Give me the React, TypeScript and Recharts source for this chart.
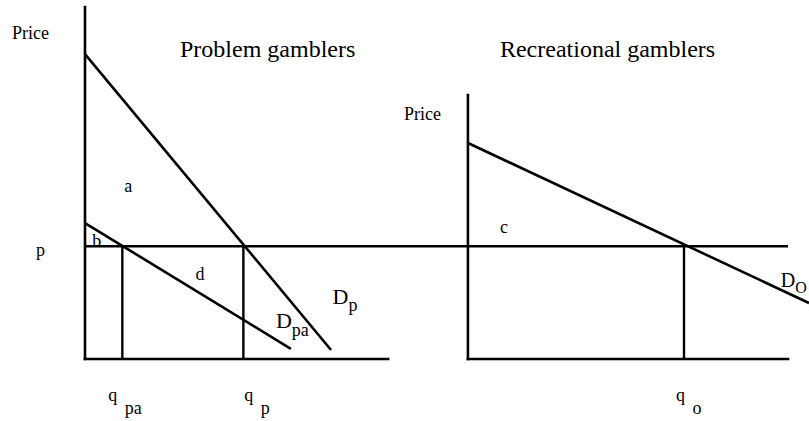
import React from "react";
import { ComposedChart, Line, Scatter, XAxis, YAxis } from "recharts";

// ---- data (price / quantity units) ----
const priceLevel = 10;
const xDomain = [0, 64];
const yDomain = [0, 31.2];

const qValues = [3.3, 14, 52.95];
const qSubscripts = ["pa", "p", "o"];
const priceTickLabel = "p";

const leftPriceAxis = [{ x: 0, y: 0 }, { x: 0, y: 31.2 }];
const leftQuantityAxis = [{ x: 0, y: 0 }, { x: 26.8, y: 0 }];
const demandP = [{ x: 0, y: 27.03 }, { x: 21.75, y: 0.8 }];
const demandPA = [{ x: 0, y: 12.05 }, { x: 18.2, y: 0.9 }];
const priceLine = [{ x: 0, y: priceLevel }, { x: 62.15, y: priceLevel }];
const qpaDrop = [{ x: 3.3, y: 0 }, { x: 3.3, y: priceLevel }];
const qpDrop = [{ x: 14, y: 0 }, { x: 14, y: priceLevel }];
const rightPriceAxis = [{ x: 33.85, y: 0 }, { x: 33.85, y: 23.4 }];
const rightQuantityAxis = [{ x: 33.85, y: 0 }, { x: 62.15, y: 0 }];
const demandO = [{ x: 33.85, y: 19.15 }, { x: 64, y: 4.96 }];
const qoDrop = [{ x: 52.95, y: 0 }, { x: 52.95, y: priceLevel }];

const panelTitles = [
  { x: 8.4, y: 26.8, label: "Problem gamblers" },
  { x: 36.68, y: 26.8, label: "Recreational gamblers" },
];
const smallLabels = [
  { x: 28.2, y: 21.18, label: "Price" },
  { x: 3.47, y: 14.8, label: "a" },
  { x: 0.65, y: 9.93, label: "b" },
  { x: 36.68, y: 11.17, label: "c" },
  { x: 9.77, y: 7.0, label: "d" },
];
const demandLabels = [
  { x: 21.88, y: 4.85, label: "D", sub: "p" },
  { x: 16.88, y: 2.72, label: "D", sub: "pa" },
  { x: 61.5, y: 6.36, label: "D", sub: "O" },
];

// ---- styles ----
const FONT = "'Times New Roman', 'Liberation Serif', serif";
const demandLabelStyles = [
  { d: 22, s: 18, dy: 7 },
  { d: 22, s: 18, dy: 8 },
  { d: 20, s: 16, dy: 6 },
];
const qLabelOffsets = [-14.2, 0.9, -8];

const QTick = (props: any) => {
  const { x, payload } = props;
  const i = qValues.indexOf(payload.value);
  if (i < 0) return null;
  const sx = x + qLabelOffsets[i];
  return (
    <g>
      <text x={sx} y={401} fontFamily={FONT} fontSize={18} fill="#000">q</text>
      <text x={sx + 16.5} y={414} fontFamily={FONT} fontSize={18} fill="#000">{qSubscripts[i]}</text>
    </g>
  );
};

const PTick = (props: any) => {
  const { y } = props;
  return (
    <text x={36} y={y + 9.5} fontFamily={FONT} fontSize={18} fill="#000">{priceTickLabel}</text>
  );
};

const PriceAxisLabel = () => (
  <text x={12} y={39} fontFamily={FONT} fontSize={18} fill="#000">Price</text>
);

const lineProps = {
  dataKey: "y",
  stroke: "#000",
  strokeWidth: 2.6,
  dot: false,
  activeDot: false,
  isAnimationActive: false,
  type: "linear" as const,
  strokeLinecap: "square" as const,
  legendType: "none" as const,
};

export default function App() {
  return (
    <div style={{ position: "absolute", left: 0, top: 0, width: 809, height: 421, background: "#fff" }}>
      <ComposedChart width={809} height={421} margin={{ top: 7, right: 0, bottom: 0, left: 0 }}>
        <XAxis
          type="number"
          dataKey="x"
          domain={xDomain}
          height={62}
          ticks={qValues}
          interval={0}
          axisLine={false}
          tickLine={false}
          tick={QTick}
        />
        <YAxis
          type="number"
          dataKey="y"
          domain={yDomain}
          width={85}
          ticks={[priceLevel]}
          interval={0}
          axisLine={false}
          tickLine={false}
          tick={PTick}
          label={PriceAxisLabel}
        />
        <Line data={leftPriceAxis} {...lineProps} />
        <Line data={leftQuantityAxis} {...lineProps} />
        <Line data={demandP} {...lineProps} strokeLinecap="butt" />
        <Line data={demandPA} {...lineProps} strokeLinecap="butt" />
        <Line data={priceLine} {...lineProps} strokeLinecap="butt" />
        <Line data={qpaDrop} {...lineProps} strokeLinecap="butt" strokeWidth={2.4} />
        <Line data={qpDrop} {...lineProps} strokeLinecap="butt" strokeWidth={2.4} />
        <Line data={rightPriceAxis} {...lineProps} />
        <Line data={rightQuantityAxis} {...lineProps} />
        <Line data={demandO} {...lineProps} strokeLinecap="butt" />
        <Line data={qoDrop} {...lineProps} strokeLinecap="butt" strokeWidth={2.4} />
        <Scatter
          data={panelTitles}
          dataKey="y"
          isAnimationActive={false}
          legendType="none"
          shape={(p: any) => (
            <text x={p.cx} y={p.cy} fontFamily={FONT} fontSize={24} fill="#000">{p.payload.label}</text>
          )}
        />
        <Scatter
          data={smallLabels}
          dataKey="y"
          isAnimationActive={false}
          legendType="none"
          shape={(p: any) => (
            <text x={p.cx} y={p.cy} fontFamily={FONT} fontSize={18} fill="#000">{p.payload.label}</text>
          )}
        />
        <Scatter
          data={demandLabels}
          dataKey="y"
          isAnimationActive={false}
          legendType="none"
          shape={(p: any) => {
            const i = demandLabels.findIndex((d) => d.sub === p.payload.sub);
            const st = demandLabelStyles[i] || demandLabelStyles[0];
            return (
              <text x={p.cx} y={p.cy} fontFamily={FONT} fill="#000">
                <tspan fontSize={st.d}>{p.payload.label}</tspan>
                <tspan fontSize={st.s} dy={st.dy}>{p.payload.sub}</tspan>
              </text>
            );
          }}
        />
      </ComposedChart>
    </div>
  );
}
